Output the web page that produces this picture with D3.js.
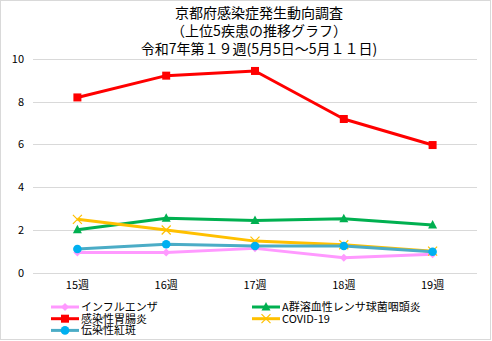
<!DOCTYPE html>
<html>
<head>
<meta charset="utf-8">
<script src="https://cdn.jsdelivr.net/npm/d3@7"></script>
<style>
  html, body { margin: 0; padding: 0; background: #fff; }
  svg { display: block; }
  text { font-family: "Noto Sans CJK JP", "Noto Sans", sans-serif; fill: #000; }
</style>
</head>
<body>
<svg id="chart" width="492" height="341"></svg>
<script>
// Weekly reported cases per sentinel site, Kyoto prefecture
const weeks = ["15週", "16週", "17週", "18週", "19週"];
const titleLines = ["京都府感染症発生動向調査", "（上位5疾患の推移グラフ）", "令和7年第１９週(5月5日～5月１１日)"];
const yTicks = [0, 2, 4, 6, 8, 10];

const seriesNames = ["インフルエンザ", "A群溶血性レンサ球菌咽頭炎", "感染性胃腸炎", "COVID-19", "伝染性紅斑"];
const influenza = [0.94, 0.94, 1.13, 0.69, 0.85];
const strepA = [2.0, 2.54, 2.43, 2.52, 2.22];
const gastro = [8.2, 9.22, 9.44, 7.19, 5.97];
const covid = [2.49, 1.99, 1.47, 1.3, 1.0];
const erythema = [1.1, 1.32, 1.24, 1.24, 0.97];
const seriesValues = [influenza, strepA, gastro, covid, erythema];

const lineColors = ["#ff99ff", "#00b050", "#ff0000", "#ffc000", "#4bacc6"];
const markerColors = ["#ff99ff", "#00b050", "#ff0000", "#ffc000", "#00b0f0"];
const markerShapes = ["diamond", "triangle", "square", "cross", "circle"];

const svg = d3.select("#chart");
const W = 492, H = 341;

// outer frame
svg.append("rect").attr("x", 0.5).attr("y", 0.5).attr("width", W - 2).attr("height", H - 2)
  .attr("fill", "#fff").attr("stroke", "#d9d9d9").attr("stroke-width", 1);

// title
svg.append("g").selectAll("text").data(titleLines).join("text")
  .attr("x", 259).attr("y", (d, i) => 18 + i * 18)
  .attr("text-anchor", "middle").attr("font-size", 14).text(d => d);

const x = d3.scaleBand().domain(weeks).range([33, 477]);
const y = d3.scaleLinear().domain([0, 10]).range([272.5, 59]);

// gridlines
svg.append("g").selectAll("line").data(yTicks).join("line")
  .attr("x1", 33).attr("x2", 477)
  .attr("y1", d => Math.round(y(d)) + 0.5).attr("y2", d => Math.round(y(d)) + 0.5)
  .attr("stroke", "#d9d9d9").attr("stroke-width", 1);

// y axis labels
const yAxis = svg.append("g").attr("transform", "translate(30,0)")
  .call(d3.axisLeft(y).tickValues(yTicks).tickSize(0).tickPadding(6).tickFormat(d3.format("d")));
yAxis.select(".domain").remove();
yAxis.selectAll("text").attr("font-size", 11).style("font-family", "'Noto Sans CJK JP', sans-serif");

// x axis labels
const xAxis = svg.append("g").attr("transform", "translate(0,272.5)")
  .call(d3.axisBottom(x).tickSize(0).tickPadding(9));
xAxis.select(".domain").remove();
xAxis.selectAll("text").attr("font-size", 11).style("font-family", "'Noto Sans CJK JP', sans-serif");

const cx = w => x(w) + x.bandwidth() / 2;
const line = d3.line().x((d, i) => cx(weeks[i])).y(d => y(d));

function drawMarker(g, shape, color, px, py) {
  if (shape === "square") {
    g.append("rect").attr("x", px - 4).attr("y", py - 4).attr("width", 8).attr("height", 8).attr("fill", color);
  } else if (shape === "triangle") {
    g.append("path").attr("d", `M${px},${py - 5}L${px + 4.5},${py + 3.5}L${px - 4.5},${py + 3.5}Z`).attr("fill", color);
  } else if (shape === "circle") {
    g.append("circle").attr("cx", px).attr("cy", py).attr("r", 4.3).attr("fill", color);
  } else if (shape === "diamond") {
    g.append("path").attr("d", `M${px},${py - 4}L${px + 4},${py}L${px},${py + 4}L${px - 4},${py}Z`).attr("fill", color);
  } else if (shape === "cross") {
    g.append("path").attr("d", `M${px - 4.5},${py - 4.5}L${px + 4.5},${py + 4.5}M${px + 4.5},${py - 4.5}L${px - 4.5},${py + 4.5}`)
      .attr("stroke", color).attr("stroke-width", 1.2).attr("fill", "none");
  }
}

// series lines and markers
seriesValues.forEach((vals, s) => {
  const g = svg.append("g");
  g.append("path").attr("d", line(vals)).attr("fill", "none")
    .attr("stroke", lineColors[s]).attr("stroke-width", 3).attr("stroke-linejoin", "round");
  vals.forEach((v, i) => drawMarker(g, markerShapes[s], markerColors[s], cx(weeks[i]), y(v)));
});

// legend: two columns, filled column by column in the order below
const legendOrder = [0, 2, 4, 1, 3];
legendOrder.forEach((s, k) => {
  const col = k < 3 ? 0 : 1;
  const row = k < 3 ? k : k - 3;
  const lx = col === 0 ? 51 : 252;
  const ly = 307 + row * 11.7;
  const g = svg.append("g");
  g.append("line").attr("x1", lx).attr("x2", lx + 28).attr("y1", ly).attr("y2", ly)
    .attr("stroke", lineColors[s]).attr("stroke-width", 3);
  drawMarker(g, markerShapes[s], markerColors[s], lx + 14, ly);
  g.append("text").attr("x", lx + 30).attr("y", ly + 4).attr("font-size", 11).text(seriesNames[s]);
});
</script>
</body>
</html>
